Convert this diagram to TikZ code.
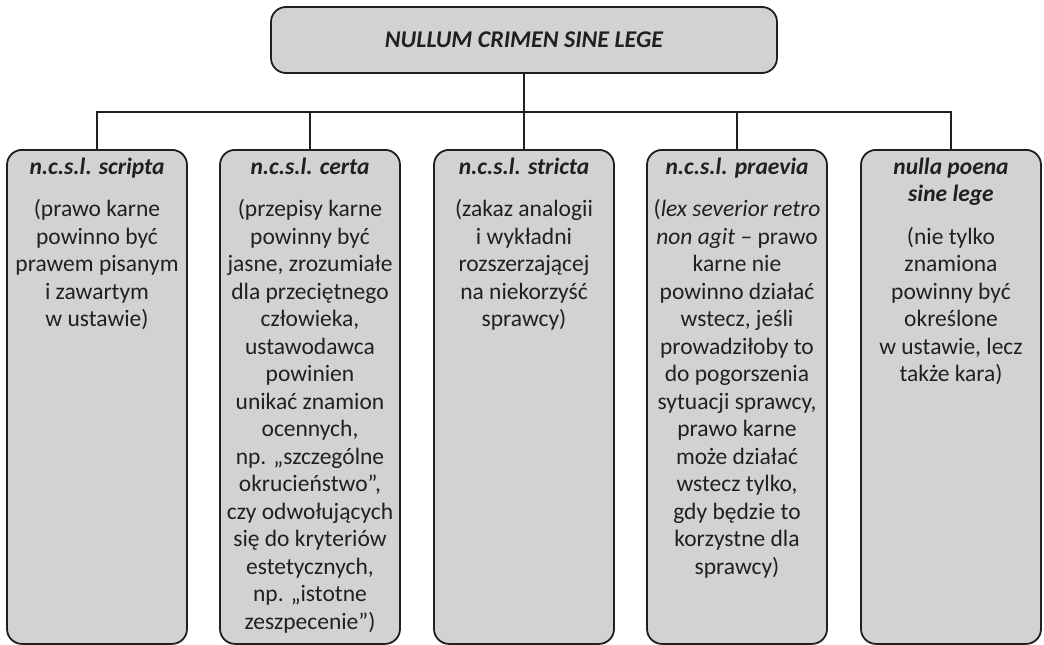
\documentclass[tikz,border=0pt]{standalone}
\usepackage{fontspec}
\setmainfont{Carlito}
\definecolor{linec}{HTML}{231F20}
\definecolor{boxfill}{HTML}{D1D2D4}
\begin{document}
\begin{tikzpicture}[x=1pt,y=-1pt,
  box/.style={draw=linec, fill=boxfill, line width=1.8pt, rounded corners=15pt, minimum width=180pt, minimum height=494pt, inner sep=0pt, anchor=north},
  topbox/.style={draw=linec, fill=boxfill, line width=1.8pt, rounded corners=15pt, minimum width=506pt, minimum height=66pt, inner sep=0pt, text=linec, font=\fontsize{24}{28}\selectfont\bfseries\itshape},
  txt/.style={align=center, anchor=north, inner sep=0pt, text=linec, font=\fontsize{23.5}{27.5}\selectfont},
  conn/.style={draw=linec, line width=1.8pt}]
\useasboundingbox (0,0) rectangle (1044,645);
\node[topbox] (top) at (524,40) {NULLUM CRIMEN SINE LEGE};
\node[box] (b1) at (97,149) {};
\node[box] (b2) at (310,149) {};
\node[box] (b3) at (524,149) {};
\node[box] (b4) at (737,149) {};
\node[box] (b5) at (951,149) {};
\coordinate (j) at (524,112);
\draw[conn] (top.south) -- (b3.north);
\draw[conn] (b1.north) -- (b1.north |- j) -- (b5.north |- j) -- (b5.north);
\draw[conn] (b2.north) -- (b2.north |- j);
\draw[conn] (b4.north) -- (b4.north |- j);
\node[txt] (t1) at (97,155) {\strut\textbf{\textit{n.c.s.l. scripta}}\\[15pt]
(prawo karne\\ powinno być\\ prawem pisanym\\ i zawartym\\ w ustawie)};
\node[txt] (t2) at (310,155) {\strut\textbf{\textit{n.c.s.l. certa}}\\[15pt]
(przepisy karne\\ powinny być\\ jasne, zrozumiałe\\ dla przeciętnego\\ człowieka,\\ ustawodawca\\ powinien\\ unikać znamion\\ ocennych,\\ np. „szczególne\\ okrucieństwo”,\\ czy odwołujących\\ się do kryteriów\\ estetycznych,\\ np. „istotne\\ zeszpecenie”)};
\node[txt] (t3) at (524,155) {\strut\textbf{\textit{n.c.s.l. stricta}}\\[15pt]
(zakaz analogii\\ i wykładni\\ rozszerzającej\\ na niekorzyść\\ sprawcy)};
\node[txt] (t4) at (737,155) {\strut\textbf{\textit{n.c.s.l. praevia}}\\[15pt]
(\textit{lex severior retro}\\ \textit{non agit} – prawo\\ karne nie\\ powinno działać\\ wstecz, jeśli\\ prowadziłoby to\\ do pogorszenia\\ sytuacji sprawcy,\\ prawo karne\\ może działać\\ wstecz tylko,\\ gdy będzie to\\ korzystne dla\\ sprawcy)};
\node[txt] (t5) at (951,155) {\strut\textbf{\textit{nulla poena}}\\ \textbf{\textit{sine lege}}\\[15pt]
(nie tylko\\ znamiona\\ powinny być\\ określone\\ w ustawie, lecz\\ także kara)};
\end{tikzpicture}
\end{document}
